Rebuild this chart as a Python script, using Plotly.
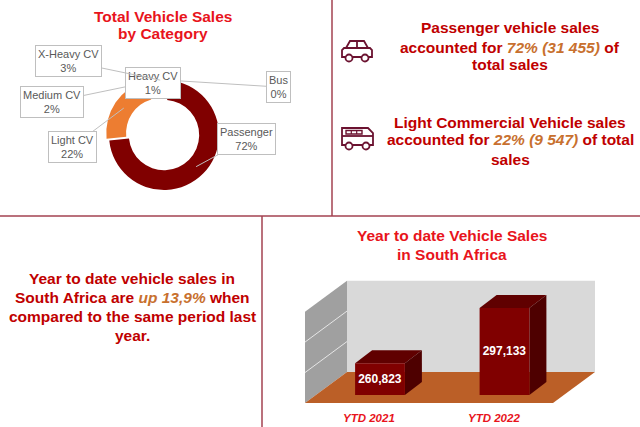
# Vehicle sales infographic

# %% Libraries
import math
import plotly.graph_objects as go

W, H = 640, 427

# %% Data
categories = ["Passenger", "Light CV", "Medium CV", "X-Heavy CV", "Heavy CV", "Bus"]
shares = [72, 22, 2, 3, 1, 0]

ytd_labels = ["YTD 2021", "YTD 2022"]
ytd_sales = [260823, 297133]
axis_ticks = [240000, 260000, 280000, 300000]

# %% Styles
TITLE_RED = "#e8141c"
TEXT_RED = "#c00000"
ACCENT = "#c8702e"
LINE = "#a34250"
ICON = "#6b1230"
FONT = "Liberation Sans, Arial, sans-serif"

slice_colors = ["#800000", "#ed7d31", "#ffffff", "#ffffff", "#ffffff", "#ffffff"]
slice_pull = [0, 0.06, 0, 0, 0, 0]

# label box centres (px) for the donut
label_boxes = {
    "Passenger": (247, 139),
    "Light CV": (72, 147),
    "Medium CV": (52, 102),
    "X-Heavy CV": (68, 61),
    "Heavy CV": (153, 83),
    "Bus": (278, 87),
}
label_order = ["Passenger", "Light CV", "Medium CV", "Bus", "Heavy CV", "X-Heavy CV"]


def fx(x):
    return x / W


def fy(y):
    return 1 - y / H


def path(points, close=True):
    s = "M " + " L ".join(f"{fx(x):.5f},{fy(y):.5f}" for x, y in points)
    return s + (" Z" if close else "")


shapes = []
annotations = []

# %% Divider lines
for x0, y0, x1, y1 in [(332, 0, 332, 216), (0, 216, 640, 216), (262, 216, 262, 427)]:
    shapes.append(dict(type="line", xref="paper", yref="paper",
                       x0=fx(x0), y0=fy(y0), x1=fx(x1), y1=fy(y1),
                       line=dict(color=LINE, width=1.5)))

# %% Donut
CX, CY, R_OUT = 164, 135, 55
HOLE = 0.64
ROT = 5
half = R_OUT * (1 + max(slice_pull))

fig = go.Figure()
fig.add_trace(go.Pie(
    labels=categories, values=shares, sort=False, direction="clockwise",
    rotation=ROT, hole=HOLE, pull=slice_pull,
    marker=dict(colors=slice_colors, line=dict(width=0)),
    textinfo="none", hoverinfo="skip", showlegend=False,
    domain=dict(x=[fx(CX - half), fx(CX + half)], y=[fy(CY + half), fy(CY - half)]),
))

# leader lines from label boxes to the slices
total = sum(shares)
heads = {}
ang = ROT
for cat, val, col, pl in zip(categories, shares, slice_colors, slice_pull):
    span = val / total * 360
    mid = math.radians(ang + span / 2)
    ang += span
    r = R_OUT * (1 + HOLE) / 2 if col != "#ffffff" else R_OUT
    r += pl * R_OUT
    heads[cat] = (CX + r * math.sin(mid), CY - r * math.cos(mid), val)

for cat in label_order:
    hx, hy, val = heads[cat]
    bx, by = label_boxes[cat]
    annotations.append(dict(
        x=fx(hx), y=fy(hy), xref="paper", yref="paper",
        ax=bx - hx, ay=by - hy, showarrow=True, arrowhead=0,
        arrowwidth=1, arrowcolor="#bfbfbf", standoff=0,
        text=f"{cat}<br>{val}%", font=dict(family=FONT, size=11, color="#595959"),
        bgcolor="white", bordercolor="#bfbfbf", borderwidth=1, borderpad=2,
    ))

# %% Text blocks (one annotation per line to keep the tight line spacing)
def text_block(x, ys, lines, size=15.5, color=TEXT_RED):
    for y, line in zip(ys, lines):
        annotations.append(dict(x=fx(x), y=fy(y), xref="paper", yref="paper",
                                text=f"<b>{line}</b>", showarrow=False,
                                xanchor="center", yanchor="middle",
                                font=dict(family=FONT, size=size, color=color)))


def hl(s):
    return f"<i><span style='color:{ACCENT}'>{s}</span></i>"


text_block(163, [16, 34], ["Total Vehicle Sales", "by Category"], color=TITLE_RED)
text_block(510, [28, 47, 65], ["Passenger vehicle sales",
                               "accounted for " + hl("72% (31 455)") + " of",
                               "total sales"])
text_block(510, [122, 140, 159], ["Light Commercial Vehicle sales",
                                  "accounted for " + hl("22% (9 547)") + " of total",
                                  "sales"])
text_block(132, [278, 297, 316, 335], ["Year to date vehicle sales in",
                                       "South Africa are " + hl("up 13,9%") + " when",
                                       "compared to the same period last",
                                       "year."])
text_block(452, [236, 254], ["Year to date Vehicle Sales", "in South Africa"], color=TITLE_RED)

# %% Icons
icon_line = dict(color=ICON, width=1.8)
# car
shapes.append(dict(type="path", xref="paper", yref="paper", line=icon_line,
                   path=path([(346, 48), (350, 41), (364, 41), (368, 48)], close=False)))
shapes.append(dict(type="path", xref="paper", yref="paper", line=icon_line,
                   path=path([(357, 41), (357, 48)], close=False)))
shapes.append(dict(type="path", xref="paper", yref="paper", line=icon_line,
                   path=path([(344, 48), (370, 48), (372, 50), (372, 57), (342, 57), (342, 50)])))
# bus
shapes.append(dict(type="path", xref="paper", yref="paper", line=icon_line,
                   path=path([(342, 128), (368, 128), (373, 133), (373, 145), (342, 145)])))
shapes.append(dict(type="path", xref="paper", yref="paper", line=icon_line,
                   path=path([(342, 136), (373, 136)], close=False)))
shapes.append(dict(type="path", xref="paper", yref="paper", line=dict(color=ICON, width=1.4),
                   path=path([(346, 130.5), (362, 130.5), (362, 134), (346, 134)])))
for wx in (351.3, 356.7):
    shapes.append(dict(type="path", xref="paper", yref="paper", line=dict(color=ICON, width=1.2),
                       path=path([(wx, 130.5), (wx, 134)], close=False)))
for cx, cy in [(349, 58), (365, 58), (349, 146), (366, 146)]:
    shapes.append(dict(type="circle", xref="paper", yref="paper",
                       x0=fx(cx - 3.5), x1=fx(cx + 3.5), y0=fy(cy + 3.5), y1=fy(cy - 3.5),
                       fillcolor="white", line=icon_line))

# %% 3D-looking bar chart (front faces are real bars, depth faces are shapes)
X0, UX = 380, 124.5          # px of category 0 and px per category
BASE, BASE_PY, UV = axis_ticks[0], 395, 656.7   # value at bar bottoms, its px, value per px
YLO, YHI = 234000, 320000

back_dx, back_dv = 31 / UX, 23 * UV      # front plane -> back wall
front_dx, front_dv = -11 / UX, -8 * UV   # front plane -> floor front edge
bar_dx, bar_dv = 17 / UX, 13 * UV        # bar depth
XL, XR = (316 - X0) / UX, (564 - X0) / UX
BW = 0.4
TOP = axis_ticks[-1]


def dpath(points):
    return "M " + " L ".join(f"{x:.5f},{y:.1f}" for x, y in points) + " Z"


def add_poly(points, color, layer="below"):
    shapes.append(dict(type="path", xref="x", yref="y", layer=layer,
                       path=dpath(points), fillcolor=color, line=dict(width=0)))


# back wall
add_poly([(XL + back_dx, BASE + back_dv), (XR + back_dx, BASE + back_dv),
          (XR + back_dx, TOP + back_dv), (XL + back_dx, TOP + back_dv)], "#d9d9d9")
# left wall
add_poly([(XL + front_dx, BASE + front_dv), (XL + front_dx, TOP + front_dv),
          (XL + back_dx, TOP + back_dv), (XL + back_dx, BASE + back_dv)], "#a0a0a0")
for t in axis_ticks[1:-1]:
    shapes.append(dict(type="line", xref="x", yref="y", layer="below",
                       x0=XL + front_dx, y0=t + front_dv, x1=XL + back_dx, y1=t + back_dv,
                       line=dict(color="#e6e6e6", width=1)))
# floor
add_poly([(XL + front_dx, BASE + front_dv), (XR + front_dx, BASE + front_dv),
          (XR + back_dx, BASE + back_dv), (XL + back_dx, BASE + back_dv)], "#bb5f27")

# bar tops and sides
for i, v in enumerate(ytd_sales):
    x0, x1 = i - BW / 2, i + BW / 2
    add_poly([(x0, v), (x1, v), (x1 + bar_dx, v + bar_dv), (x0 + bar_dx, v + bar_dv)], "#600000")
    add_poly([(x1, BASE), (x1, v), (x1 + bar_dx, v + bar_dv), (x1 + bar_dx, BASE + bar_dv)],
             "#4e0000")

fig.add_trace(go.Bar(
    x=list(range(len(ytd_sales))), y=[v - BASE for v in ytd_sales], base=BASE, width=BW,
    marker=dict(color="#800000", line=dict(width=0)),
    text=[f"{v:,}" for v in ytd_sales], textposition="inside", insidetextanchor="middle",
    textangle=0, constraintext="none",
    textfont=dict(family=FONT, size=12, color="white", weight="bold"),
    hoverinfo="skip", showlegend=False,
))

for i, lab in enumerate(ytd_labels):
    annotations.append(dict(x=i, xref="x", y=fy(418), yref="paper", xshift=front_dx * UX,
                            xanchor="center", yanchor="middle",
                            text=f"<b><i>{lab}</i></b>", showarrow=False,
                            font=dict(family=FONT, size=11.5, color=TITLE_RED)))

bottom_px = BASE_PY + (BASE - YLO) / UV
top_px = BASE_PY - (YHI - BASE) / UV

fig.update_layout(
    width=W, height=H, margin=dict(l=0, r=0, t=0, b=0),
    paper_bgcolor="white", plot_bgcolor="rgba(0,0,0,0)",
    xaxis=dict(domain=[(X0 - UX) / W, (X0 + 2 * UX) / W], range=[-1, 2], visible=False),
    yaxis=dict(domain=[1 - bottom_px / H, 1 - top_px / H], range=[YLO, YHI], visible=False),
    shapes=shapes, annotations=annotations,
)

# the page body has a default 8px margin; drop it so the figure fills the window
fig.write_html("out.html", config={"displayModeBar": False},
               post_script="document.body.style.margin='0px';")
